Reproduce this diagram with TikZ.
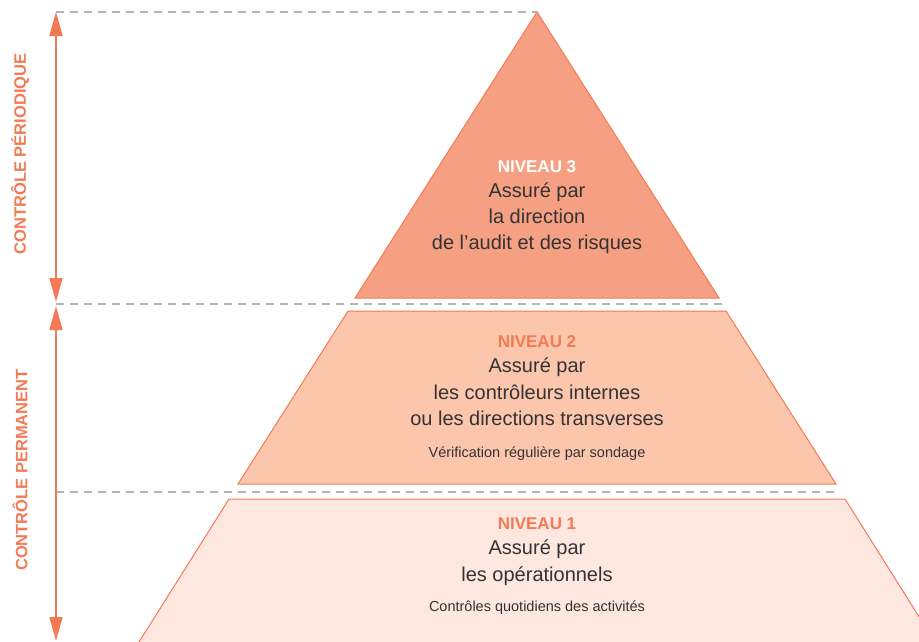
\documentclass[tikz,border=0pt]{standalone}
\usepackage{fontspec}
\setmainfont{Liberation Sans}
\usetikzlibrary{arrows.meta}
\definecolor{orline}{HTML}{F27A55}
\definecolor{fillA}{HTML}{F5A083}
\definecolor{fillB}{HTML}{FCC6AD}
\definecolor{fillC}{HTML}{FDE7DE}
\definecolor{txt}{HTML}{333333}
\definecolor{dashgray}{HTML}{B4B4B4}
\tikzset{
  band/.style={draw=orline, line width=1pt, line join=miter},
  sep/.style={draw=dashgray, line width=1.3pt, dash pattern=on 8pt off 6pt},
  span/.style={draw=orline, line width=1.6pt, {Triangle[length=24pt,width=13pt]}-{Triangle[length=24pt,width=13pt]}},
  side/.style={text=orline, font=\bfseries\fontsize{16.5}{18}\selectfont, rotate=90},
  lvl/.style={font=\bfseries\fontsize{17}{18}\selectfont, text height=12.5pt, text depth=0pt},
  main/.style={text=txt, font=\fontsize{20}{22}\selectfont, text height=15pt, text depth=4pt},
  small/.style={text=txt, font=\fontsize{14.5}{15}\selectfont, text height=11pt, text depth=3pt},
}
\begin{document}
\begin{tikzpicture}[x=1pt,y=-1pt]
\useasboundingbox (0,0) rectangle (919,641);
% pyramid bands
\fill[fillA] (537,12) -- (719,298) -- (355,298) -- cycle;
\draw[band] (537,12) -- (719,298) -- (355,298) -- cycle;
\filldraw[band, fill=fillB] (348,311) -- (726,311) -- (836,484) -- (238,484) -- cycle;
\filldraw[band, fill=fillC] (229,499) -- (845,499) -- (940,650) -- (134,650) -- cycle;
% dashed separators
\coordinate (d1a) at (56,12); \coordinate (d1b) at (537,12);
\coordinate (d2a) at (56,304); \coordinate (d2b) at (722,304);
\coordinate (d3a) at (56,492); \coordinate (d3b) at (840,492);
\draw[sep] (d1a) -- (d1b);
\draw[sep] (d2a) -- (d2b);
\draw[sep] (d3a) -- (d3b);
% arrows
\coordinate (a1t) at (56,12); \coordinate (a1b) at (56,302);
\coordinate (a2t) at (56,306); \coordinate (a2b) at (56,641);
\draw[span] (a1t) -- (a1b);
\draw[span] (a2t) -- (a2b);
\node[side] (sp) at (20,154) {CONTRÔLE PÉRIODIQUE};
\node[side] (sm) at (20,470) {CONTRÔLE PERMANENT};
% level 3
\node[lvl, text=white] (n3) at (537,166) {NIVEAU 3};
\node[main] (n3a) at (537,192) {Assuré par};
\node[main] (n3b) at (537,218) {la direction};
\node[main] (n3c) at (537,244) {de l’audit et des risques};
% level 2
\node[lvl, text=orline] (n2) at (537,341) {NIVEAU 2};
\node[main] (n2a) at (537,367) {Assuré par};
\node[main] (n2b) at (537,394) {les contrôleurs internes};
\node[main] (n2c) at (537,420) {ou les directions transverses};
\node[small] (n2d) at (537,453) {Vérification régulière par sondage};
% level 1
\node[lvl, text=orline] (n1) at (537,523) {NIVEAU 1};
\node[main] (n1a) at (537,549) {Assuré par};
\node[main] (n1b) at (537,576) {les opérationnels};
\node[small] (n1c) at (537,607) {Contrôles quotidiens des activités};
\end{tikzpicture}
\end{document}
